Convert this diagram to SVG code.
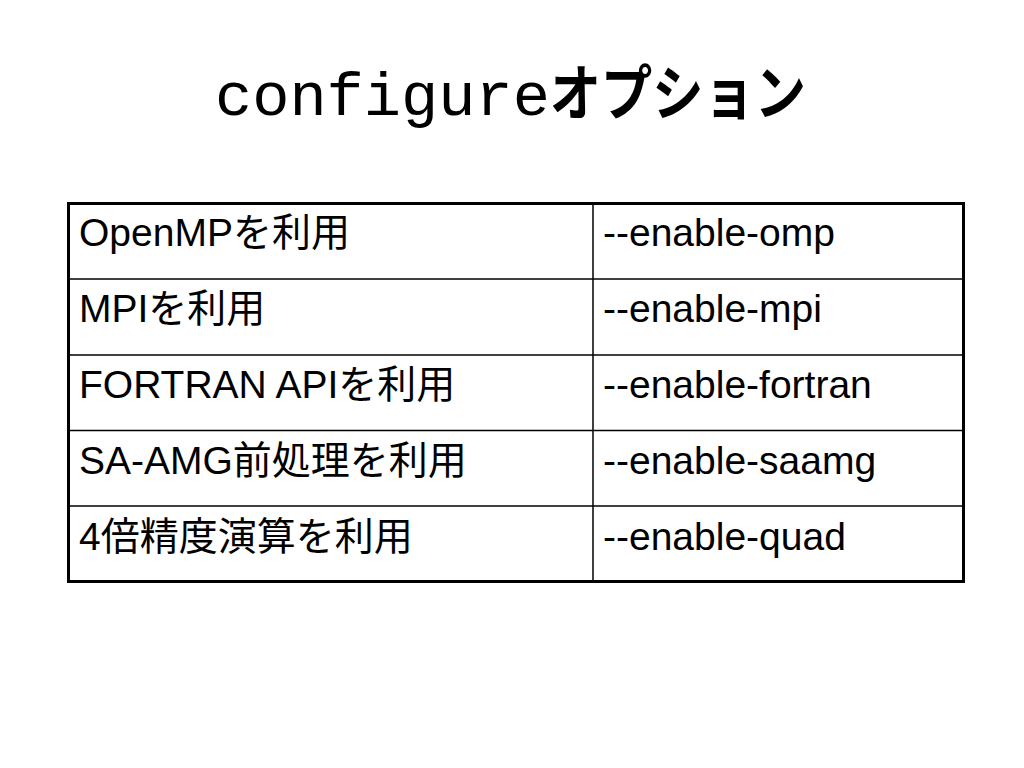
<svg xmlns="http://www.w3.org/2000/svg" width="1024" height="768" viewBox="0 0 1024 768">
<style>
.cell{font-family:"Liberation Sans","Noto Sans CJK JP",Arial,sans-serif;font-size:39px;fill:#000}
.title-en{font-family:"Liberation Mono","Courier New",monospace;font-size:62px;fill:#000}
.title-ja{font-family:"Noto Sans CJK JP",sans-serif;font-size:60px;font-weight:bold;fill:#000}
.inner{stroke:#000;stroke-width:1.5;fill:none}
.outer{stroke:#000;stroke-width:3;fill:none}
</style>
<rect width="1024" height="768" fill="#fff"/>
<g id="title">
<text x="215" y="115"><tspan class="title-en">configure</tspan><tspan class="title-ja" textLength="256" lengthAdjust="spacingAndGlyphs">オプション</tspan></text>
</g>
<g id="table-lines">
<line class="inner" x1="68" y1="279" x2="964" y2="279"/>
<line class="inner" x1="68" y1="355" x2="964" y2="355"/>
<line class="inner" x1="68" y1="430.5" x2="964" y2="430.5"/>
<line class="inner" x1="68" y1="506" x2="964" y2="506"/>
<line class="inner" x1="593" y1="203" x2="593" y2="582"/>
<rect class="outer" x="68.5" y="203.5" width="895" height="378"/>
</g>
<g id="row1">
<text class="cell" x="79" y="246">OpenMPを利用</text>
<text class="cell" x="603" y="246">--enable-omp</text>
</g>
<g id="row2">
<text class="cell" x="79" y="322">MPIを利用</text>
<text class="cell" x="603" y="322">--enable-mpi</text>
</g>
<g id="row3">
<text class="cell" x="79" y="398">FORTRAN APIを利用</text>
<text class="cell" x="603" y="398">--enable-fortran</text>
</g>
<g id="row4">
<text class="cell" x="79" y="474">SA-AMG前処理を利用</text>
<text class="cell" x="603" y="474">--enable-saamg</text>
</g>
<g id="row5">
<text class="cell" x="79" y="550">4倍精度演算を利用</text>
<text class="cell" x="603" y="550">--enable-quad</text>
</g>
</svg>
